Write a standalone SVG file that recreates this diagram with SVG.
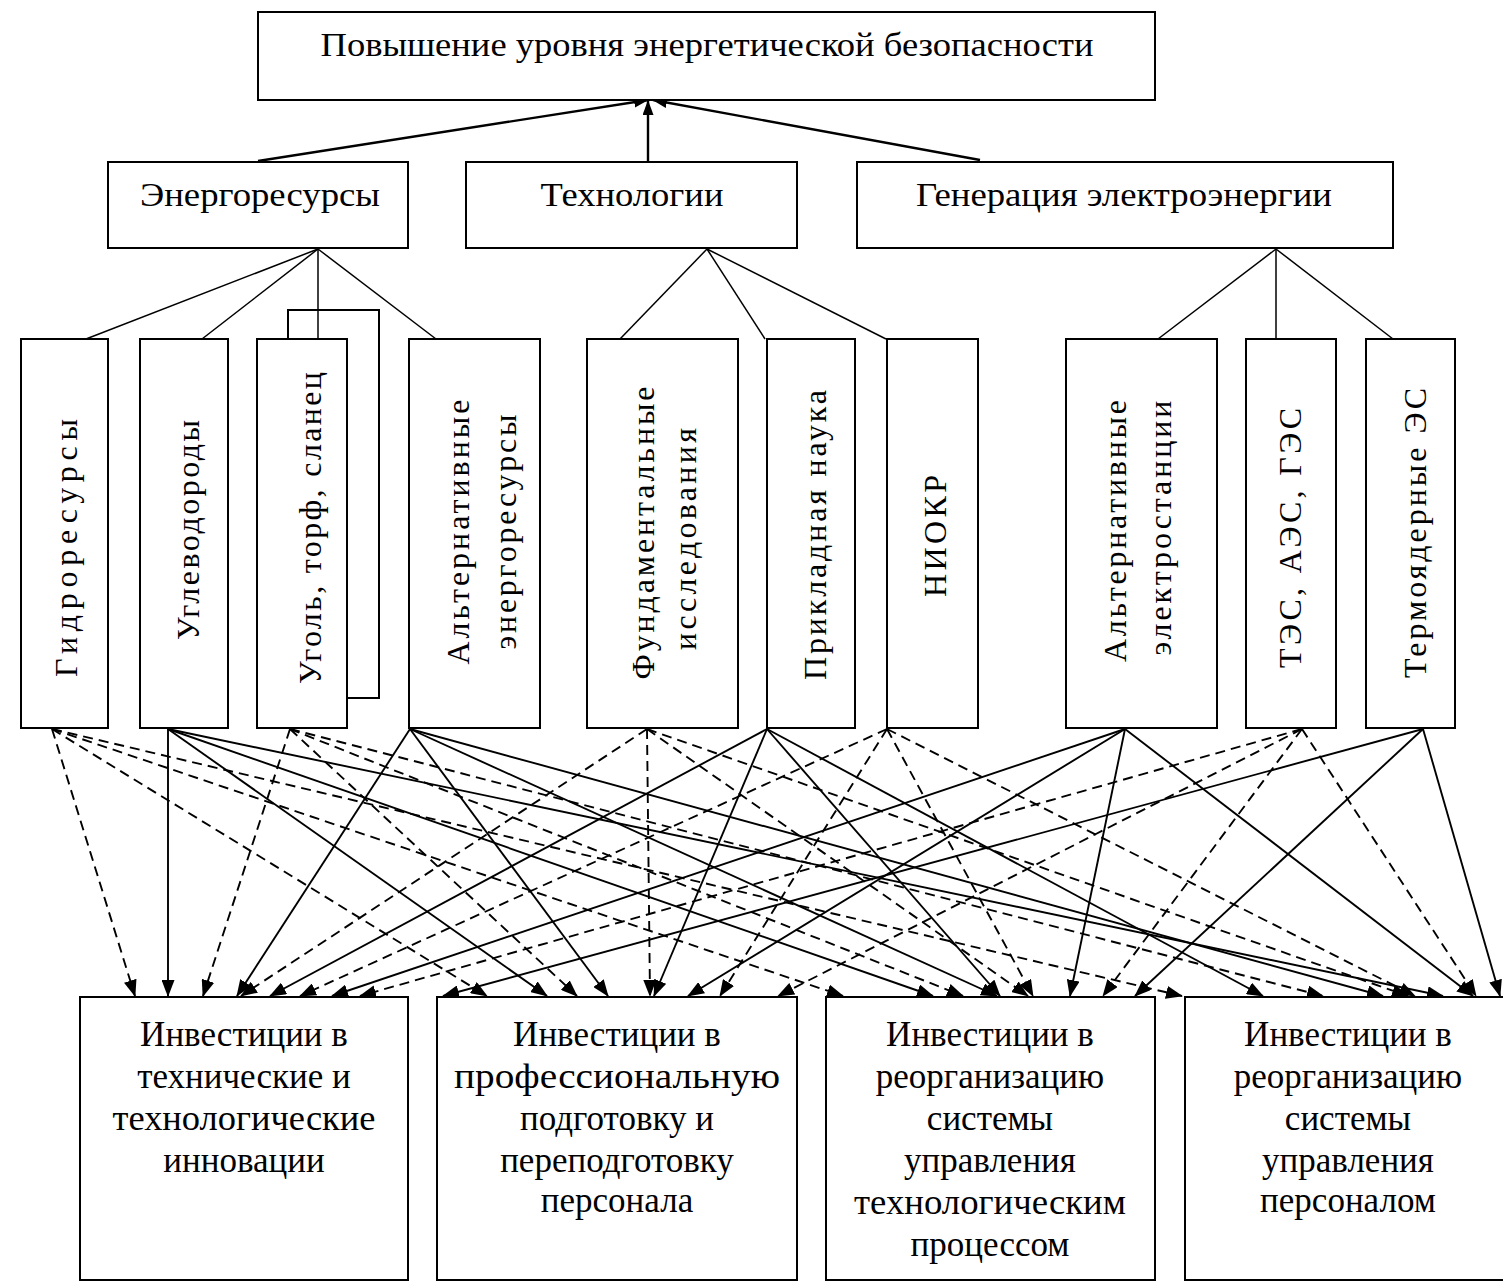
<svg xmlns="http://www.w3.org/2000/svg" width="1503" height="1283" viewBox="0 0 1503 1283">
<defs>
<style>
.box{fill:#fff;stroke:#000;stroke-width:2}
.t{font-family:"Liberation Serif","Times New Roman",serif;fill:#000;text-anchor:middle}
.vt{font-family:"Liberation Serif","Times New Roman",serif;font-size:32px;fill:#000;text-anchor:middle}
.bt{font-family:"Liberation Serif","Times New Roman",serif;font-size:35px;fill:#000;text-anchor:middle}
.h{stroke:#000;stroke-width:1.5;fill:none}
.s{stroke:#000;stroke-width:1.9;fill:none;marker-end:url(#ah)}
.d{stroke:#000;stroke-width:1.9;fill:none;stroke-dasharray:10 6;marker-end:url(#ah)}
.u{stroke:#000;stroke-width:2.4;fill:none;marker-end:url(#ah2)}
</style>
<marker id="ah" markerUnits="userSpaceOnUse" markerWidth="17" markerHeight="13" viewBox="0 0 17 13" refX="16" refY="6.5" orient="auto">
<path d="M0,0 L17,6.5 L0,13 z" fill="#000"/>
</marker>
<marker id="ah2" markerUnits="userSpaceOnUse" markerWidth="15" markerHeight="11" viewBox="0 0 15 11" refX="14" refY="5.5" orient="auto">
<path d="M0,0 L15,5.5 L0,11 z" fill="#000"/>
</marker>
</defs>
<rect width="1503" height="1283" fill="#fff"/>

<g id="connectors">
<line class="u" x1="258" y1="161" x2="648" y2="100"/>
<line class="u" x1="648" y1="161" x2="648" y2="101"/>
<line class="u" x1="980" y1="160" x2="653" y2="100"/>
<line class="h" x1="318" y1="249" x2="86" y2="339"/>
<line class="h" x1="318" y1="249" x2="202" y2="339"/>
<line class="h" x1="318" y1="249" x2="318" y2="339"/>
<line class="h" x1="318" y1="249" x2="436" y2="339"/>
<line class="h" x1="707" y1="249" x2="620" y2="339"/>
<line class="h" x1="707" y1="249" x2="765" y2="339"/>
<line class="h" x1="707" y1="249" x2="886" y2="339"/>
<line class="h" x1="1276" y1="249" x2="1158" y2="339"/>
<line class="h" x1="1276" y1="249" x2="1276" y2="339"/>
<line class="h" x1="1276" y1="249" x2="1393" y2="339"/>
<line class="d" x1="52" y1="729" x2="135" y2="996"/>
<line class="d" x1="52" y1="729" x2="487" y2="996"/>
<line class="d" x1="52" y1="729" x2="843" y2="996"/>
<line class="d" x1="52" y1="729" x2="1182" y2="996"/>
<line class="s" x1="168" y1="729" x2="168" y2="996"/>
<line class="s" x1="168" y1="729" x2="547" y2="996"/>
<line class="s" x1="168" y1="729" x2="933" y2="996"/>
<line class="s" x1="168" y1="729" x2="1443" y2="996"/>
<line class="d" x1="290" y1="729" x2="203" y2="996"/>
<line class="d" x1="290" y1="729" x2="577" y2="996"/>
<line class="d" x1="290" y1="729" x2="963" y2="996"/>
<line class="d" x1="290" y1="729" x2="1323" y2="996"/>
<line class="s" x1="410" y1="729" x2="237" y2="996"/>
<line class="s" x1="410" y1="729" x2="608" y2="996"/>
<line class="s" x1="410" y1="729" x2="997" y2="996"/>
<line class="s" x1="410" y1="729" x2="1383" y2="996"/>
<line class="d" x1="647" y1="729" x2="241" y2="996"/>
<line class="d" x1="647" y1="729" x2="650" y2="996"/>
<line class="d" x1="647" y1="729" x2="1028" y2="996"/>
<line class="d" x1="647" y1="729" x2="1408" y2="996"/>
<line class="s" x1="767" y1="729" x2="270" y2="996"/>
<line class="s" x1="767" y1="729" x2="654" y2="996"/>
<line class="s" x1="767" y1="729" x2="1000" y2="996"/>
<line class="s" x1="767" y1="729" x2="1263" y2="996"/>
<line class="d" x1="887" y1="729" x2="300" y2="996"/>
<line class="d" x1="887" y1="729" x2="720" y2="996"/>
<line class="d" x1="887" y1="729" x2="1033" y2="996"/>
<line class="d" x1="887" y1="729" x2="1415" y2="996"/>
<line class="s" x1="1125" y1="729" x2="332" y2="996"/>
<line class="s" x1="1125" y1="729" x2="688" y2="996"/>
<line class="s" x1="1125" y1="729" x2="1070" y2="996"/>
<line class="s" x1="1125" y1="729" x2="1473" y2="996"/>
<line class="d" x1="1302" y1="729" x2="360" y2="996"/>
<line class="d" x1="1302" y1="729" x2="778" y2="996"/>
<line class="d" x1="1302" y1="729" x2="1103" y2="996"/>
<line class="d" x1="1302" y1="729" x2="1476" y2="996"/>
<line class="s" x1="1423" y1="729" x2="443" y2="996"/>
<line class="s" x1="1423" y1="729" x2="1135" y2="996"/>
<line class="s" x1="1423" y1="729" x2="1500" y2="996"/>
</g>

<g id="n-top">
<rect class="box" x="258" y="12" width="897" height="88"/>
<text class="t" x="707" y="56" font-size="34" textLength="773" lengthAdjust="spacingAndGlyphs">Повышение уровня энергетической безопасности</text>
</g>
<g id="n-energo">
<rect class="box" x="108" y="162" width="300" height="86"/>
<text class="t" x="260" y="206" font-size="33" textLength="240" lengthAdjust="spacingAndGlyphs">Энергоресурсы</text>
</g>
<g id="n-tech">
<rect class="box" x="466" y="162" width="331" height="86"/>
<text class="t" x="632" y="206" font-size="33" textLength="183" lengthAdjust="spacingAndGlyphs">Технологии</text>
</g>
<g id="n-gen">
<rect class="box" x="857" y="162" width="536" height="86"/>
<text class="t" x="1124" y="206" font-size="33" textLength="416" lengthAdjust="spacingAndGlyphs">Генерация электроэнергии</text>
</g>

<g id="n-hydro">
<rect class="box" x="21" y="339" width="87" height="389"/>
<text class="vt" transform="translate(77,548) rotate(-90)" textLength="258" lengthAdjust="spacing">Гидроресурсы</text>
</g>
<g id="n-hydrocarb">
<rect class="box" x="140" y="339" width="88" height="389"/>
<text class="vt" transform="translate(199,530) rotate(-90)" textLength="220" lengthAdjust="spacing">Углеводороды</text>
</g>
<g id="n-coal">
<rect class="box" x="288" y="310" width="91" height="388"/>
<rect class="box" x="257" y="339" width="90" height="389"/>
<line class="h" x1="318" y1="310" x2="318" y2="339"/>
<text class="vt" transform="translate(321,528) rotate(-90)" textLength="312" lengthAdjust="spacing">Уголь, торф, сланец</text>
</g>
<g id="n-altres">
<rect class="box" x="409" y="339" width="131" height="389"/>
<text class="vt" transform="translate(469,532) rotate(-90)" textLength="265" lengthAdjust="spacing">Альтернативные</text>
<text class="vt" transform="translate(516,532) rotate(-90)" textLength="235" lengthAdjust="spacing">энергоресурсы</text>
</g>
<g id="n-fund">
<rect class="box" x="587" y="339" width="151" height="389"/>
<text class="vt" transform="translate(654,533) rotate(-90)" textLength="293" lengthAdjust="spacing">Фундаментальные</text>
<text class="vt" transform="translate(696,539) rotate(-90)" textLength="222" lengthAdjust="spacing">исследования</text>
</g>
<g id="n-applied">
<rect class="box" x="767" y="339" width="88" height="389"/>
<text class="vt" transform="translate(826,535) rotate(-90)" textLength="290" lengthAdjust="spacing">Прикладная наука</text>
</g>
<g id="n-niokr">
<rect class="box" x="887" y="339" width="91" height="389"/>
<text class="vt" transform="translate(946,536) rotate(-90)" textLength="122" lengthAdjust="spacing">НИОКР</text>
</g>
<g id="n-altst">
<rect class="box" x="1066" y="339" width="151" height="389"/>
<text class="vt" transform="translate(1126,531) rotate(-90)" textLength="262" lengthAdjust="spacing">Альтернативные</text>
<text class="vt" transform="translate(1171,528) rotate(-90)" textLength="255" lengthAdjust="spacing">электростанции</text>
</g>
<g id="n-tes">
<rect class="box" x="1246" y="339" width="90" height="389"/>
<text class="vt" transform="translate(1301,538) rotate(-90)" textLength="260" lengthAdjust="spacing">ТЭС, АЭС, ГЭС</text>
</g>
<g id="n-thermo">
<rect class="box" x="1366" y="339" width="89" height="389"/>
<text class="vt" transform="translate(1426,533) rotate(-90)" textLength="290" lengthAdjust="spacing">Термоядерные ЭС</text>
</g>

<g id="n-inv-tech">
<rect class="box" x="80" y="997" width="328" height="283"/>
<text class="bt" x="244" y="1046">Инвестиции в</text>
<text class="bt" x="244" y="1088">технические и</text>
<text class="bt" x="244" y="1130" textLength="263" lengthAdjust="spacingAndGlyphs">технологические</text>
<text class="bt" x="244" y="1172">инновации</text>
</g>
<g id="n-inv-staff">
<rect class="box" x="437" y="997" width="360" height="283"/>
<text class="bt" x="617" y="1046">Инвестиции в</text>
<text class="bt" x="617" y="1088" textLength="326" lengthAdjust="spacingAndGlyphs">профессиональную</text>
<text class="bt" x="617" y="1130">подготовку и</text>
<text class="bt" x="617" y="1172">переподготовку</text>
<text class="bt" x="617" y="1212">персонала</text>
</g>
<g id="n-inv-proc">
<rect class="box" x="826" y="997" width="329" height="283"/>
<text class="bt" x="990" y="1046">Инвестиции в</text>
<text class="bt" x="990" y="1088">реорганизацию</text>
<text class="bt" x="990" y="1130">системы</text>
<text class="bt" x="990" y="1172">управления</text>
<text class="bt" x="990" y="1214" textLength="272" lengthAdjust="spacingAndGlyphs">технологическим</text>
<text class="bt" x="990" y="1256">процессом</text>
</g>
<g id="n-inv-mgmt">
<rect class="box" x="1185" y="997" width="330" height="283"/>
<text class="bt" x="1348" y="1046">Инвестиции в</text>
<text class="bt" x="1348" y="1088">реорганизацию</text>
<text class="bt" x="1348" y="1130">системы</text>
<text class="bt" x="1348" y="1172">управления</text>
<text class="bt" x="1348" y="1212">персоналом</text>
</g>
</svg>
